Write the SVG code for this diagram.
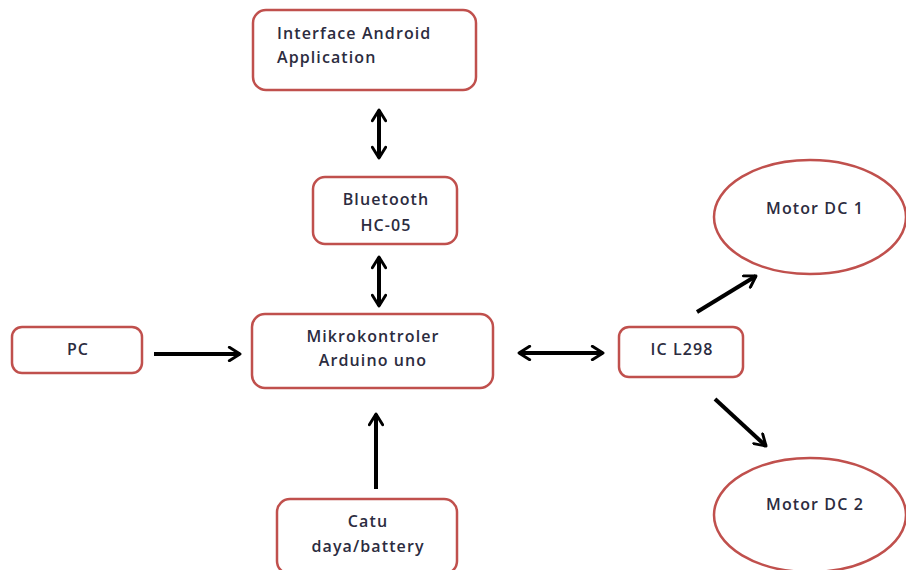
<svg xmlns="http://www.w3.org/2000/svg" width="906" height="570" viewBox="0 0 906 570">
<defs>
<style>
.box{fill:#fff;stroke:#c0504d;stroke-width:2.5}
.t{font-family:"Open Sans","Liberation Sans",sans-serif;font-size:16px;font-weight:600;fill:#2c2c40;letter-spacing:1.1px}
.c{text-anchor:middle}
.ln{stroke:#000;stroke-width:4;fill:none}
</style>
<marker id="ah" viewBox="0 0 12 12" refX="10" refY="6" markerWidth="4" markerHeight="4" orient="auto-start-reverse" markerUnits="strokeWidth">
<path d="M2,1 L10,6 L2,11" fill="none" stroke="#000" stroke-width="2.2" stroke-linecap="round" stroke-linejoin="round"/>
</marker>
</defs>
<rect width="906" height="570" fill="#fff"/>
<g id="interface">
<rect class="box" x="253" y="10" width="223" height="80" rx="13"/>
<text class="t" x="277" y="39">Interface Android</text>
<text class="t" x="277" y="63">Application</text>
</g>
<g id="bluetooth">
<rect class="box" x="313" y="177" width="144" height="67" rx="12"/>
<text class="t c" x="386" y="205">Bluetooth</text>
<text class="t c" x="386" y="231">HC-05</text>
</g>
<g id="pc">
<rect class="box" x="12" y="327" width="130" height="46" rx="10"/>
<text class="t c" x="78" y="355">PC</text>
</g>
<g id="mikro">
<rect class="box" x="252" y="314" width="241" height="74" rx="13"/>
<text class="t c" x="373" y="342">Mikrokontroler</text>
<text class="t c" x="373" y="366">Arduino uno</text>
</g>
<g id="ic">
<rect class="box" x="619" y="327" width="124" height="50" rx="10"/>
<text class="t c" x="682" y="355">IC L298</text>
</g>
<g id="motor1">
<ellipse class="box" cx="810" cy="217" rx="96" ry="57"/>
<text class="t c" x="815" y="214">Motor DC 1</text>
</g>
<g id="motor2">
<ellipse class="box" cx="810" cy="515" rx="96" ry="57"/>
<text class="t c" x="815" y="510">Motor DC 2</text>
</g>
<g id="catu">
<rect class="box" x="277" y="499" width="180" height="75" rx="13"/>
<text class="t c" x="368" y="527">Catu</text>
<text class="t c" x="368" y="552">daya/battery</text>
</g>
<g id="connectors">
<line class="ln" x1="379" y1="110" x2="379" y2="158" marker-start="url(#ah)" marker-end="url(#ah)"/>
<line class="ln" x1="379" y1="257" x2="379" y2="306" marker-start="url(#ah)" marker-end="url(#ah)"/>
<line class="ln" x1="154" y1="354" x2="240" y2="354" marker-end="url(#ah)"/>
<line class="ln" x1="519" y1="353" x2="603" y2="353" marker-start="url(#ah)" marker-end="url(#ah)"/>
<line class="ln" x1="376" y1="489" x2="376" y2="414" marker-end="url(#ah)"/>
<line class="ln" x1="697" y1="312" x2="756" y2="276" marker-end="url(#ah)"/>
<line class="ln" x1="715" y1="399" x2="766" y2="446" marker-end="url(#ah)"/>
</g>
</svg>
